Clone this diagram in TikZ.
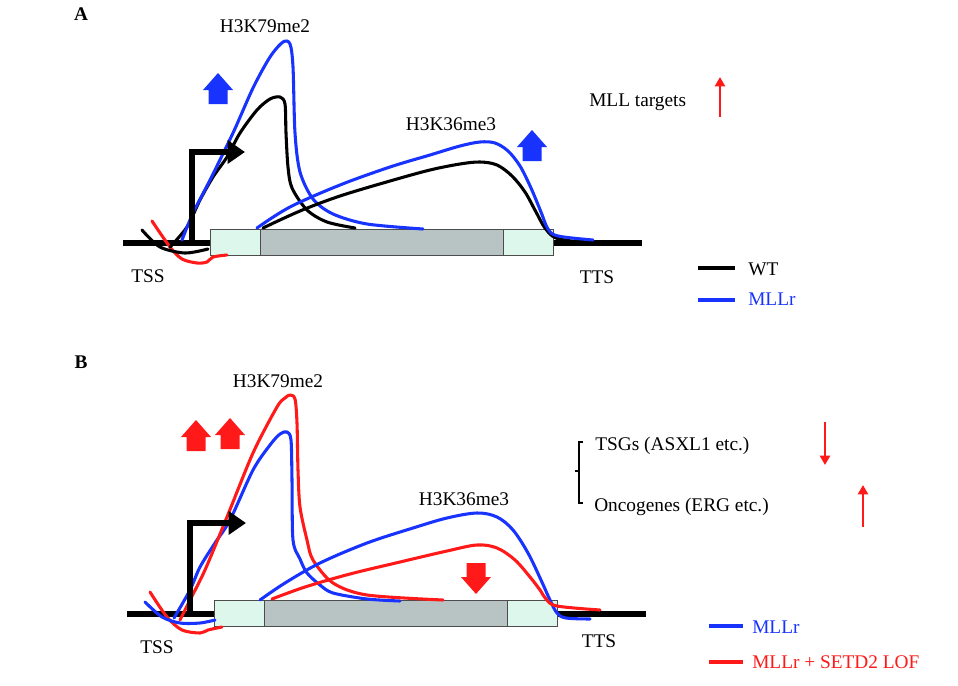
\documentclass[tikz,border=0pt]{standalone}
\usepackage{fontspec}
\setmainfont{Liberation Serif}
\usetikzlibrary{arrows.meta}
\definecolor{mblue}{rgb}{0.1,0.2,1}
\definecolor{mred}{rgb}{1,0.1,0.1}
\definecolor{utr}{rgb}{0.87,0.97,0.93}
\definecolor{cds}{rgb}{0.72,0.77,0.77}
\definecolor{boxedge}{rgb}{0.3,0.3,0.3}
\tikzset{
  lbl/.style={font=\fontsize{14.5}{17}\selectfont, inner sep=0pt, anchor=base},
  trace/.style={line width=2.3pt, line join=round, line cap=round},
  legline/.style={line width=3pt},
  tinyarrow/.style={mred, line width=2.2pt, -{Triangle[length=7pt,width=7.5pt]}},
  promoter/.style={line width=4.6pt, -{Triangle[length=13pt,width=17pt]}},
  genebox/.style={draw=boxedge, line width=0.7pt}
}

\begin{document}
\begin{tikzpicture}[x=0.75pt,y=-0.75pt]
\useasboundingbox (0,0) rectangle (958,686);

% gene models, panel A and panel B
\foreach \dx/\dy in {0/0,4/371} {
    \draw[line width=5.2pt] (123+\dx,243+\dy) -- (642+\dx,243+\dy);
    \draw[genebox, fill=utr] (210+\dx,229+\dy) rectangle (260+\dx,255+\dy);
    \draw[genebox, fill=cds] (260+\dx,229+\dy) rectangle (503+\dx,255+\dy);
    \draw[genebox, fill=utr] (503+\dx,229+\dy) rectangle (553+\dx,255+\dy);
}

% ---- panel A ----
\node[lbl, font=\fontsize{14.5}{17}\selectfont\bfseries] (labA) at (81,20) {A};
\node[lbl] (k79A) at (265,32) {H3K79me2};
\node[lbl] (k36A) at (451,130) {H3K36me3};
\node[lbl, anchor=base west] (mllA) at (589,106) {MLL targets};
\node[lbl] (tssA) at (148,282) {TSS};
\node[lbl] (ttsA) at (597,283) {TTS};

\draw[trace, mred] plot[smooth, tension=0.5] coordinates {(152,221) (170,247) (182,259) (197,263) (207,262) (213,257) (227,255)};
\draw[trace] plot[smooth, tension=0.5] coordinates {(142,230) (160,247) (185,253) (208,249)};
\draw[trace] plot[smooth, tension=0.5] coordinates {(170,247) (187,227) (200,200) (213,177) (227,157) (240,133) (257,110) (270,99) (280,97) (285,104) (286,133) (288,167) (292,188) (307,210) (327,222) (355,228)};
\draw[trace, mblue] plot[smooth, tension=0.5] coordinates {(182,240) (193,213) (210,180) (233,133) (253,88) (270,57) (283,42) (290,44) (293,67) (295,133) (300,172) (313,199) (333,214) (367,224) (423,229)};
\draw[trace] plot[smooth, tension=0.55] coordinates {(263,228) (300,211) (340,196) (390,181) (430,170) (460,164) (480,162) (497,165) (512,176) (525,192) (536,212) (545,228) (556,238) (580,242)};
\draw[trace, mblue] plot[smooth, tension=0.55] coordinates {(257,228) (290,207) (340,185) (390,167) (430,155) (460,146) (480,142) (495,143) (508,151) (520,166) (531,188) (541,212) (548,229) (558,236) (593,240)};

\draw[promoter] (192,245) -- (192,152) -- (245,152);

\foreach \x/\y/\d/\c in {218/73/1/mblue, 532/130/1/mblue, 196/420/1/mred, 230/418/1/mred, 476/594/-1/mred} {
    \fill[\c] (\x,\y) -- ++(15,{17*(\d)}) -- ++(-5.5,0) -- ++(0,{14*(\d)}) -- ++(-19,0) -- ++(0,{-14*(\d)}) -- ++(-5.5,0) -- cycle;
}

\coordinate (upA0) at (720,117);
\coordinate (upA1) at (720,77);
\draw[tinyarrow] (upA0) -- (upA1);

% legend A
\coordinate (wtL) at (698,268);
\coordinate (wtR) at (735,268);
\coordinate (mlL) at (698,300);
\coordinate (mlR) at (735,300);
\draw[legline] (wtL) -- (wtR);
\draw[legline, mblue] (mlL) -- (mlR);
\node[lbl, anchor=base west] (wtA) at (748,275) {WT};
\node[lbl, anchor=base west, text=mblue] (mllrA) at (748,305) {MLLr};

% ---- panel B ----
\node[lbl, font=\fontsize{14.5}{17}\selectfont\bfseries] (labB) at (81,368) {B};
\node[lbl] (k79B) at (278,387) {H3K79me2};
\node[lbl] (k36B) at (464,505) {H3K36me3};
\node[lbl] (tssB) at (157,653) {TSS};
\node[lbl] (ttsB) at (599,647) {TTS};
\node[lbl, anchor=base west] (tsg) at (595,450) {TSGs (ASXL1 etc.)};
\node[lbl, anchor=base west] (onc) at (594,511) {Oncogenes (ERG etc.)};
\draw[line width=0.8pt] (583,442) -- (579,442) -- (579,503) -- (583,503);
\draw[line width=0.8pt] (575,471) -- (579,471);

\draw[trace, mred] plot[smooth, tension=0.5] coordinates {(150,592) (167,617) (182,630) (200,633) (208,630) (222,627)};
\draw[trace, mblue] plot[smooth, tension=0.5] coordinates {(145,602) (162,617) (180,623) (200,623) (215,620)};
\draw[trace, mblue] plot[smooth, tension=0.5] coordinates {(174,618) (190,590) (200,567) (215,543) (230,520) (253,470) (270,445) (280,434) (287,432) (291,440) (292,480) (293,540) (300,559) (307,573) (320,585) (333,593) (367,599) (400,601)};
\draw[trace, mred] plot[smooth, tension=0.5] coordinates {(180,620) (190,600) (205,570) (227,517) (253,453) (277,407) (285,398) (290,395) (295,399) (297,423) (298,470) (300,507) (307,540) (313,560) (333,583) (367,595) (443,600)};
\draw[trace, mblue] plot[smooth, tension=0.55] coordinates {(260,600) (285,583) (320,563) (367,543) (413,528) (447,518) (477,513) (497,517) (513,530) (528,553) (541,580) (550,600) (557,613) (566,618) (590,619)};
\draw[trace, mred] plot[smooth, tension=0.55] coordinates {(272,599) (305,587) (350,574) (400,562) (447,551) (477,545) (497,548) (515,560) (530,577) (540,590) (546,599) (557,606) (600,610)};

\draw[promoter] (190,616) -- (190,523) -- (246,523);

\coordinate (dnB0) at (825,422);
\coordinate (dnB1) at (825,465);
\coordinate (upB0) at (863,527);
\coordinate (upB1) at (863,485);
\draw[tinyarrow] (dnB0) -- (dnB1);
\draw[tinyarrow] (upB0) -- (upB1);

% legend B
\coordinate (blL) at (709,626);
\coordinate (blR) at (743,626);
\coordinate (rdL) at (709,662);
\coordinate (rdR) at (743,662);
\draw[legline, mblue] (blL) -- (blR);
\draw[legline, mred] (rdL) -- (rdR);
\node[lbl, anchor=base west, text=mblue] (mllrB) at (752,633) {MLLr};
\node[lbl, anchor=base west, text=mred] (setd) at (752,668) {MLLr + SETD2 LOF};
\end{tikzpicture}
\end{document}
